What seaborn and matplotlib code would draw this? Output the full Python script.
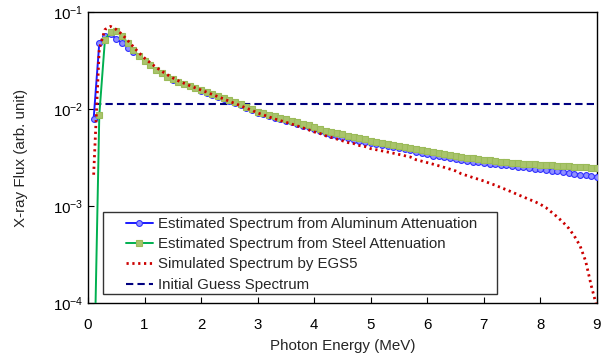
import numpy as np
import pandas as pd
import matplotlib
matplotlib.use("Agg")
import matplotlib.pyplot as plt
from matplotlib.patches import Rectangle
import seaborn as sns

energy = [round(0.1 * i, 1) for i in range(1, 91)]

aluminum = [
    0.0079, 0.048, 0.057, 0.059, 0.053, 0.048, 0.043, 0.039, 0.035, 0.0315,
    0.0284, 0.0255, 0.0234, 0.0215, 0.0201, 0.0190, 0.0180, 0.0171, 0.0163, 0.0155,
    0.0147, 0.0140, 0.0133, 0.0127, 0.0121, 0.0115, 0.0109, 0.0103, 0.0097, 0.0092,
    0.0088, 0.0084, 0.0081, 0.0078, 0.0075, 0.0073, 0.0070, 0.0067, 0.0065, 0.0062,
    0.0059, 0.0057, 0.0054, 0.0053, 0.0051, 0.0050, 0.0048, 0.0047, 0.0046, 0.0045,
    0.0044, 0.0043, 0.0042, 0.0041, 0.0040, 0.0039, 0.0038, 0.0036, 0.0035, 0.0034,
    0.0033, 0.00325, 0.00317, 0.00309, 0.00302, 0.00296, 0.00290, 0.00285, 0.00281, 0.00278,
    0.00274, 0.00270, 0.00266, 0.00262, 0.00258, 0.00255, 0.00251, 0.00247, 0.00243, 0.00239,
    0.00235, 0.00231, 0.00227, 0.00223, 0.00219, 0.00215, 0.00211, 0.00207, 0.00203, 0.00200,
]

steel = [
    0.00001, 0.0087, 0.052, 0.062, 0.064, 0.057, 0.048, 0.041, 0.035, 0.0315,
    0.0284, 0.0255, 0.0234, 0.0216, 0.0202, 0.0191, 0.0181, 0.0172, 0.0164, 0.0157,
    0.0149, 0.0142, 0.0135, 0.0129, 0.0123, 0.0118, 0.0112, 0.0106, 0.0100, 0.0094,
    0.0090, 0.0087, 0.0084, 0.0081, 0.0078, 0.0076, 0.0073, 0.0070, 0.0068, 0.0065,
    0.0062, 0.0060, 0.0058, 0.0056, 0.0055, 0.0053, 0.0052, 0.0050, 0.0049, 0.0047,
    0.0046, 0.0045, 0.0044, 0.0043, 0.0042, 0.0041, 0.0040, 0.0039, 0.0038, 0.0037,
    0.00362, 0.00354, 0.00346, 0.00338, 0.00330, 0.00322, 0.00315, 0.00309, 0.00304, 0.00299,
    0.00295, 0.00291, 0.00287, 0.00283, 0.00279, 0.00276, 0.00273, 0.00270, 0.00268, 0.00266,
    0.00264, 0.00262, 0.00260, 0.00258, 0.00256, 0.00254, 0.00252, 0.00250, 0.00248, 0.00246,
]

egs5 = [
    0.0021, 0.042, 0.066, 0.071, 0.066, 0.059, 0.051, 0.044, 0.038, 0.0335,
    0.0300, 0.0270, 0.0246, 0.0226, 0.0209, 0.0195, 0.0184, 0.0174, 0.0165, 0.0157,
    0.0149, 0.0141, 0.0134, 0.0127, 0.0120, 0.0114, 0.0108, 0.0102, 0.0097, 0.0091,
    0.0087, 0.0083, 0.0079, 0.0076, 0.0073, 0.0070, 0.0067, 0.0064, 0.0061, 0.0058,
    0.0056, 0.0053, 0.0051, 0.0049, 0.0047, 0.0045, 0.0044, 0.0042, 0.0041, 0.0039,
    0.0038, 0.0037, 0.0036, 0.0035, 0.0034, 0.0033, 0.0032, 0.0030, 0.0029, 0.0028,
    0.0027, 0.0026, 0.0025, 0.0024, 0.0023, 0.00215, 0.00206, 0.00197, 0.00189, 0.00181,
    0.00172, 0.00164, 0.00155, 0.00147, 0.00139, 0.00131, 0.00124, 0.00117, 0.00111, 0.00104,
    0.00096, 0.00086, 0.00077, 0.00068, 0.00059, 0.00049, 0.00039, 0.00027, 0.00015, 0.00009,
]

initial_guess = [0.0112] * 90

labels = [
    "Estimated Spectrum from Aluminum Attenuation",
    "Estimated Spectrum from Steel Attenuation",
    "Simulated Spectrum by EGS5",
    "Initial Guess Spectrum",
]

sns.set_style("white")
plt.rcParams["font.family"] = ["Liberation Sans", "DejaVu Sans"]
plt.rcParams["mathtext.fontset"] = "custom"
plt.rcParams["mathtext.rm"] = "Liberation Sans"
plt.rcParams["mathtext.it"] = "Liberation Sans"

fig = plt.figure(figsize=(6.01, 3.58), dpi=100)
ax = fig.add_axes([0.1464, 0.1536, 0.8469, 0.8129])

df = pd.DataFrame({"E": energy, "al": aluminum, "st": steel, "egs": egs5, "ig": initial_guess})

sns.lineplot(data=df, x="E", y="al", ax=ax, color="#1a1aff", lw=1.4,
             marker="o", markersize=4.2, markerfacecolor="#8f8fff", markeredgecolor="#3030ff",
             markeredgewidth=0.8, label=labels[0], zorder=3)
sns.lineplot(data=df, x="E", y="st", ax=ax, color="#00b050", lw=1.4,
             marker="s", markersize=5, markerfacecolor="#a9c46c", markeredgecolor="#9bbb59",
             markeredgewidth=0.8, label=labels[1], zorder=4)
sns.lineplot(data=df, x="E", y="egs", ax=ax, color="#cc0000", lw=2.0,
             linestyle=(0, (0.8, 1.3)), label=labels[2], zorder=5)
sns.lineplot(data=df, x="E", y="ig", ax=ax, color="#000080", lw=1.5,
             linestyle=(0, (3.5, 2)), label=labels[3], zorder=2)

ax.set_yscale("log")
ax.set_xlim(0, 9)
ax.set_ylim(1e-4, 1e-1)
ax.set_xticks(range(0, 10))
ax.set_yticks([1e-4, 1e-3, 1e-2, 1e-1])
ax.yaxis.set_minor_locator(matplotlib.ticker.NullLocator())
ax.tick_params(axis="both", which="major", direction="in", length=4, width=0.8,
               labelsize=10.8, colors="black", bottom=True, left=True)
ax.tick_params(axis="x", pad=10.5)
ax.tick_params(axis="y", pad=3.5)
for s in ax.spines.values():
    s.set_color("black")
    s.set_linewidth(1.0)

ax.set_xlabel("Photon Energy (MeV)", fontsize=10.9, labelpad=5)
ax.set_ylabel("X-ray Flux (arb. unit)", fontsize=10.9, labelpad=18)

leg = ax.legend(loc="upper left", bbox_to_anchor=(0.074, 0.296), fontsize=10.8,
                frameon=False, handlelength=1.8, handletextpad=0.35, labelspacing=0.42,
                borderpad=0, borderaxespad=0)
ax.add_patch(Rectangle((0.030, 0.030), 0.7735, 0.2837, transform=ax.transAxes,
                       facecolor="white", edgecolor="#333333", lw=1.0, zorder=6))
leg.set_zorder(7)

fig.savefig("out.png", dpi=100)
